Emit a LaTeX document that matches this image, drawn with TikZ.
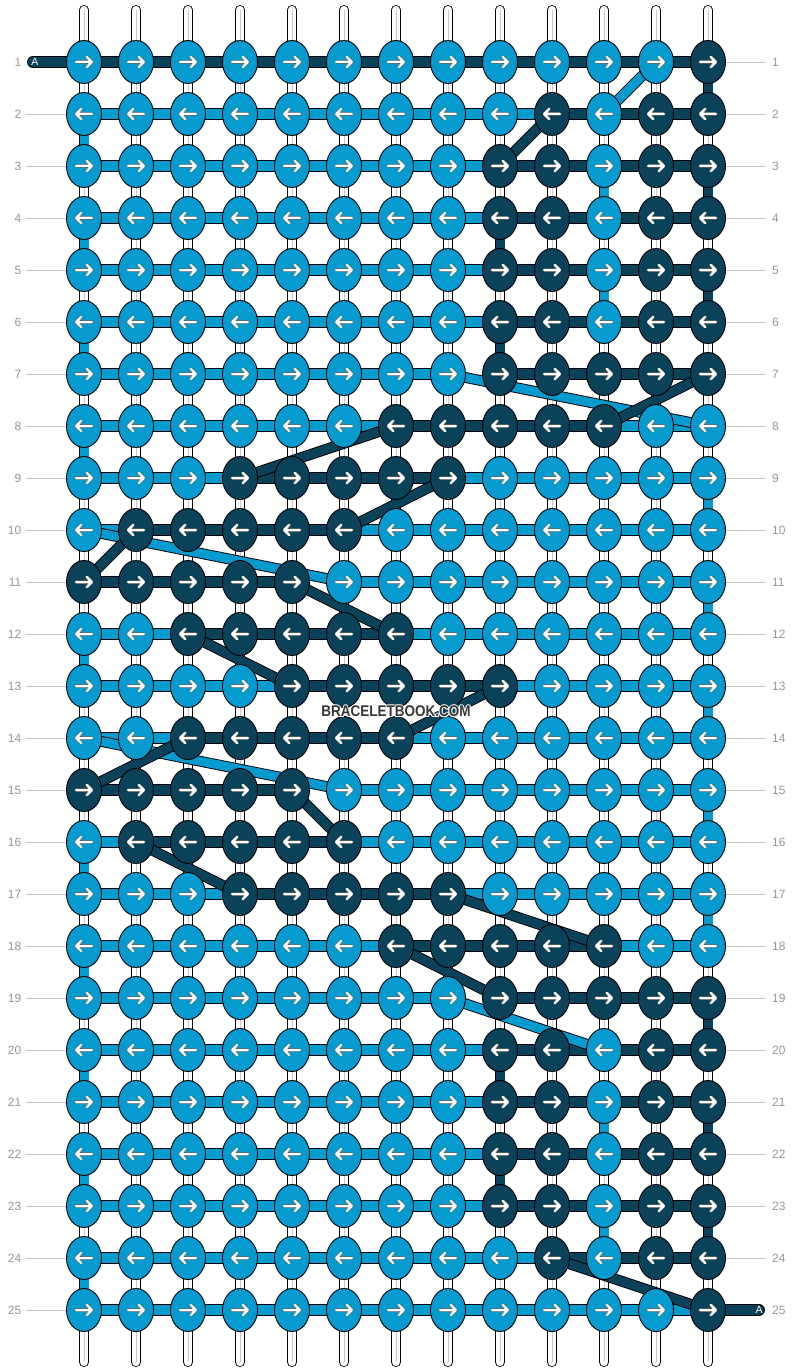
\documentclass[tikz,border=0pt]{standalone}
\usepackage{fontspec}
\setmainfont{Liberation Sans}
\usetikzlibrary{shapes.geometric}
\definecolor{lt}{RGB}{5,155,207}
\definecolor{dk}{RGB}{10,66,89}
\definecolor{numgray}{RGB}{150,150,150}
\definecolor{rulegray}{RGB}{195,195,195}
\definecolor{markgray}{RGB}{55,55,55}
\tikzset{
  strand/.style = {draw=black, line width=0.9pt, double=#1, double distance=10pt},
  jump/.style = {draw=black, line width=0.9pt, double=#1, double distance=9pt},
  knot/.style = {ellipse, draw, line width=0.9pt, fill=#1,
    minimum width=35pt, minimum height=43pt, inner sep=0pt}
}

\begin{document}
\begin{tikzpicture}[
    x = 1pt, y = -1pt,
    base/.style = {draw=black, line width=0.8pt, double=white,
      double distance=8.4pt, line cap=round},
    core/.style = {draw=black!22, line width=1pt},
    arrowline/.style = {draw=black!75, line width=0.45pt, double=white,
      double distance=2.5pt, line cap=round, line join=round},
    rownum/.style = {text=numgray, font=\fontsize{12}{14}\selectfont, inner ysep=0pt},
    rowline/.style = {draw=rulegray, line width=0.9pt},
    tag/.style = {text=white, font=\fontsize{10.5}{12}\selectfont, inner sep=0pt},
    stamp/.style = {font=\bfseries\fontsize{15.5}{18}\selectfont, inner sep=0pt}
  ]
  \useasboundingbox (0,0) rectangle (792,1372);
  \fill[white] (0,0) rectangle (792,1372);

  % knot centres
  \foreach \r in {1,...,25}
    \foreach \c in {1,...,13}
      \coordinate (p-\r-\c) at (32+52*\c, 10+52*\r);

  % base strings
  \foreach \c in {1,...,13} {
    \coordinate (top-\c) at (32+52*\c, 10);
    \coordinate (bot-\c) at (32+52*\c, 1362);
    \draw[base] (top-\c) -- (bot-\c);
    \draw[core] (top-\c) -- (bot-\c);
  }

  % working strands along the rows
  \foreach \r/\runs in {1/{1/13/dk}, 2/{1/10/lt,10/13/dk}, 3/{1/9/lt,9/13/dk},
      4/{1/9/lt,9/13/dk}, 5/{1/9/lt,9/13/dk}, 6/{1/9/lt,9/13/dk},
      7/{1/8/lt,9/13/dk}, 8/{1/7/lt,7/11/dk,11/13/lt}, 9/{1/4/lt,4/8/dk,8/13/lt},
      10/{1/2/lt,2/6/dk,6/13/lt}, 11/{1/5/dk,6/13/lt}, 12/{1/3/lt,3/7/dk,7/13/lt},
      13/{1/5/lt,5/9/dk,9/13/lt}, 14/{1/3/lt,3/7/dk,7/13/lt}, 15/{1/5/dk,6/13/lt},
      16/{1/2/lt,2/6/dk,6/13/lt}, 17/{1/4/lt,4/8/dk,8/13/lt},
      18/{1/7/lt,7/11/dk,11/13/lt}, 19/{1/8/lt,9/13/dk}, 20/{1/9/lt,9/13/dk},
      21/{1/9/lt,9/13/dk}, 22/{1/9/lt,9/13/dk}, 23/{1/9/lt,9/13/dk},
      24/{1/10/lt,10/13/dk}, 25/{1/13/lt}} {
    \foreach \a/\b/\col in \runs
      \draw[strand=\col] (p-\r-\a) -- (p-\r-\b);
  }

  % loose ends
  \coordinate (endL) at (33,62);
  \coordinate (endR) at (759,1310);
  \draw[strand=dk, line cap=round] (endL) -- (p-1-1);
  \draw[strand=dk, line cap=round] (p-25-13) -- (endR);

  % strands passing to the next row
  \foreach \ra/\ca/\rb/\cb/\col in {1/13/2/13/dk, 2/1/3/1/lt, 3/13/4/13/dk, 3/11/4/11/lt,
      4/9/5/9/dk, 4/1/5/1/lt, 5/13/6/13/dk, 5/11/6/11/lt, 6/9/7/9/dk, 6/1/7/1/lt,
      8/1/9/1/lt, 9/13/10/13/lt, 11/13/12/13/lt, 12/1/13/1/lt, 13/13/14/13/lt,
      15/13/16/13/lt, 16/1/17/1/lt, 17/13/18/13/lt, 18/1/19/1/lt, 19/13/20/13/dk,
      20/9/21/9/dk, 20/1/21/1/lt, 21/13/22/13/dk, 21/11/22/11/lt, 22/9/23/9/dk,
      22/1/23/1/lt, 23/13/24/13/dk, 23/11/24/11/lt, 24/1/25/1/lt,
      1/12/2/11/lt, 7/8/8/13/lt, 10/1/11/6/lt, 14/1/15/6/lt, 19/8/20/11/lt,
      2/10/3/9/dk, 7/13/8/11/dk, 8/7/9/4/dk, 9/8/10/6/dk, 10/2/11/1/dk,
      11/5/12/7/dk, 12/3/13/5/dk, 13/9/14/7/dk, 14/3/15/1/dk, 15/5/16/6/dk,
      16/2/17/4/dk, 17/8/18/11/dk, 18/7/19/9/dk, 24/10/25/13/dk}
    \draw[jump=\col] (p-\ra-\ca) -- (p-\rb-\cb);

  % knots
  \foreach \row [count=\r] in {
      {lt,lt,lt,lt,lt,lt,lt,lt,lt,lt,lt,lt,dk},
      {lt,lt,lt,lt,lt,lt,lt,lt,lt,dk,lt,dk,dk},
      {lt,lt,lt,lt,lt,lt,lt,lt,dk,dk,lt,dk,dk},
      {lt,lt,lt,lt,lt,lt,lt,lt,dk,dk,lt,dk,dk},
      {lt,lt,lt,lt,lt,lt,lt,lt,dk,dk,lt,dk,dk},
      {lt,lt,lt,lt,lt,lt,lt,lt,dk,dk,lt,dk,dk},
      {lt,lt,lt,lt,lt,lt,lt,lt,dk,dk,dk,dk,dk},
      {lt,lt,lt,lt,lt,lt,dk,dk,dk,dk,dk,lt,lt},
      {lt,lt,lt,dk,dk,dk,dk,dk,lt,lt,lt,lt,lt},
      {lt,dk,dk,dk,dk,dk,lt,lt,lt,lt,lt,lt,lt},
      {dk,dk,dk,dk,dk,lt,lt,lt,lt,lt,lt,lt,lt},
      {lt,lt,dk,dk,dk,dk,dk,lt,lt,lt,lt,lt,lt},
      {lt,lt,lt,lt,dk,dk,dk,dk,dk,lt,lt,lt,lt},
      {lt,lt,dk,dk,dk,dk,dk,lt,lt,lt,lt,lt,lt},
      {dk,dk,dk,dk,dk,lt,lt,lt,lt,lt,lt,lt,lt},
      {lt,dk,dk,dk,dk,dk,lt,lt,lt,lt,lt,lt,lt},
      {lt,lt,lt,dk,dk,dk,dk,dk,lt,lt,lt,lt,lt},
      {lt,lt,lt,lt,lt,lt,dk,dk,dk,dk,dk,lt,lt},
      {lt,lt,lt,lt,lt,lt,lt,lt,dk,dk,dk,dk,dk},
      {lt,lt,lt,lt,lt,lt,lt,lt,dk,dk,lt,dk,dk},
      {lt,lt,lt,lt,lt,lt,lt,lt,dk,dk,lt,dk,dk},
      {lt,lt,lt,lt,lt,lt,lt,lt,dk,dk,lt,dk,dk},
      {lt,lt,lt,lt,lt,lt,lt,lt,dk,dk,lt,dk,dk},
      {lt,lt,lt,lt,lt,lt,lt,lt,lt,dk,lt,dk,dk},
      {lt,lt,lt,lt,lt,lt,lt,lt,lt,lt,lt,lt,dk}} {
    \pgfmathtruncatemacro\dir{isodd(\r) ? 1 : -1}
    \foreach \kc [count=\c] in \row {
      \node[knot=\kc] (k-\r-\c) at (p-\r-\c) {};
      \draw[arrowline, shift={(p-\r-\c)}, xscale=\dir]
        (-7.8,0) -- (7.8,0) (2.8,-5) -- (7.8,0) -- (2.8,5);
    }
  }

  \node[tag] (tagL) at (35,62) {A};
  \node[tag] (tagR) at (759,1310) {A};

  % row numbers
  \foreach \r in {1,...,25} {
    \node[rownum, anchor=east, inner xsep=4.5pt] (ln-\r) at (26, 10+52*\r) {\r};
    \node[rownum, anchor=west, inner xsep=7pt] (rn-\r) at (765, 10+52*\r) {\r};
  }
  \foreach \r in {2,...,25}
    \draw[rowline] (ln-\r.east) -- (k-\r-1);
  \foreach \r in {1,...,24}
    \draw[rowline] (k-\r-13) -- (rn-\r.west);

  % watermark with a thin white halo
  \foreach \dx/\dy [count=\i] in {-1/0, 1/0, 0/-1, 0/1, -0.8/-0.8, 0.8/-0.8, -0.8/0.8, 0.8/0.8}
    \node[stamp, text=white] (halo-\i) at (396+\dx, 711.5+\dy)
      {\scalebox{0.87}[1]{BRACELETBOOK.COM}};
  \node[stamp, text=markgray] (brand) at (396,711.5) {\scalebox{0.87}[1]{BRACELETBOOK.COM}};
\end{tikzpicture}
\end{document}
